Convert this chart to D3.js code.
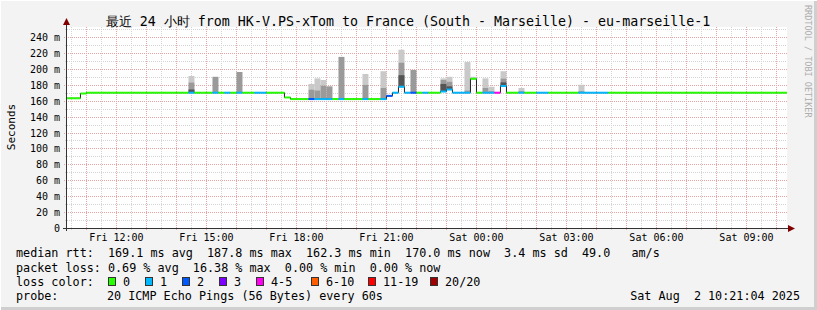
<!DOCTYPE html>
<html>
<head>
<meta charset="utf-8">
<script src="https://cdn.jsdelivr.net/npm/d3@7"></script>
<style>
  body { margin: 0; background: #f3f3f3; }
  svg { display: block; }
  text { font-family: "DejaVu Sans Mono", monospace; fill: #000; white-space: pre; }
</style>
</head>
<body>
<div id="chart"></div>
<script>
// median rtt (ms) per 12 minute bin, first bin starts Fri 10:12
const median = [
  163, 163, 163, 169,
  170, 170, 170, 170, 170, 170, 170, 170, 170, 170, 170, 170, 170, 170, 170, 170, 170,
  170, 170, 170, 170, 170, 170, 170, 170, 170, 170, 170, 170, 170, 170, 170, 170,
  164,
  162, 162, 162, 162, 162, 162, 162, 162, 162, 162, 162, 162, 162, 162, 162, 162,
  166, 170, 177.5, 170, 170,
  170, 170, 170, 170, 171.5, 174, 170, 170, 170, 187.5,
  170, 170, 170, 170, 178.5,
  170, 170, 170, 170, 170, 170, 170, 170, 170, 170, 170, 170, 170, 170, 170, 170,
  170, 170, 170, 170, 170, 170, 170, 170, 170, 170, 170, 170, 170, 170, 170, 170,
  170, 170, 170, 170, 170, 170, 170, 170, 170, 170, 170, 170, 170, 170, 170
];
// loss class per bin (index into lossLabels)
const lossClass = [
  0, 0, 0, 0, 0, 0, 0, 0, 0, 0, 0, 0, 0, 0, 0, 0, 0, 0, 0, 0, 0,
  1, 0, 0, 0, 1, 0, 1, 0, 1, 0, 0, 1, 1, 0, 0, 0, 0, 0, 0, 0,
  2, 1, 1, 1, 0, 1, 0, 0, 0, 1, 0, 0, 1, 2, 1, 1, 1, 2, 0, 1,
  0, 0, 1, 1, 1, 1, 1, 0, 0, 1, 1, 4, 1, 0, 0, 1, 0, 0, 1, 1,
  0, 0, 0, 0, 0, 1, 1, 1, 1, 1,
  0, 0, 0, 0, 0, 0, 0, 0, 0, 0, 0, 0, 0, 0, 0, 0, 0, 0, 0, 0,
  0, 0, 0, 0, 0, 0, 0, 0, 0, 0
];
// smoke: bins with visible ping spread; max ping, end of the denser part, dense core (0 = none)
const smokeBins = [21, 25, 29, 41, 42, 43, 44, 46, 50, 53, 56, 58, 63, 64, 67, 68, 70, 71, 73, 76, 86];
const smokeTop  = [191, 190, 196, 181, 188, 186, 178, 215, 193.5, 197, 224, 198.5, 188, 190, 208.5, 190, 188, 177.5, 197, 176, 180];
const smokeMid  = [183, 190, 196, 174, 173, 179, 178, 215, 180, 176, 208, 198.5, 186, 184, 173, 185, 176, 172, 188, 172, 172];
const smokeDark = [174, 0, 0, 0, 0, 0, 0, 0, 0, 0, 192, 0, 181, 178, 0, 180, 0, 0, 183, 0, 0];

const lossLabels = ["0", "1", "2", "3", "4-5", "6-10", "11-19", "20/20"];
const lossColors = ["#26ff00", "#00b8ff", "#0059ff", "#7e00ff", "#ff00f0", "#ff5e00", "#ff0000", "#a10000"];

const yLabels = [0, 20, 40, 60, 80, 100, 120, 140, 160, 180, 200, 220, 240];

const legendLines = [
  "median rtt:  169.1 ms avg  187.8 ms max  162.3 ms min  170.0 ms now  3.4 ms sd  49.0   am/s",
  "packet loss: 0.69 % avg  16.38 % max  0.00 % min  0.00 % now"
];
const legendX = [108, 145, 182, 219, 256, 311, 368, 430];

const W = 817, H = 310;
const plot = {left: 67, right: 787, top: 27, bottom: 228};

const svg = d3.select("#chart").append("svg").attr("width", W).attr("height", H);

// frame
svg.append("rect").attr("width", W).attr("height", H).attr("fill", "#f3f3f3");
svg.append("rect").attr("x", 0).attr("y", H - 3).attr("width", W).attr("height", 3).attr("fill", "#cfcfcf");
svg.append("rect").attr("x", W - 3).attr("y", 0).attr("width", 3).attr("height", H).attr("fill", "#cfcfcf");
svg.append("rect").attr("x", 0).attr("y", 0).attr("width", W).attr("height", 1).attr("fill", "#fff");
svg.append("rect").attr("x", 0).attr("y", 0).attr("width", 1).attr("height", H).attr("fill", "#fff");

svg.append("rect")
  .attr("x", plot.left).attr("y", plot.top)
  .attr("width", plot.right - plot.left).attr("height", plot.bottom - plot.top)
  .attr("fill", "#fff");

const t0 = new Date(2025, 7, 1, 10, 21, 4);
const t1 = new Date(2025, 7, 2, 10, 21, 4);
const binStart = new Date(2025, 7, 1, 10, 12, 0);
const binMs = 12 * 60 * 1000;
const binTime = i => new Date(binStart.getTime() + i * binMs);

const x = d3.scaleTime().domain([t0, t1]).range([plot.left, plot.right]);
const y = d3.scaleLinear().domain([0, 240]).range([plot.bottom, 37]);

// grid
const grid = svg.append("g");
const minorY = d3.range(10, 251, 20);
grid.selectAll(".gy").data(minorY).enter().append("line")
  .attr("x1", plot.left - 2).attr("x2", plot.right)
  .attr("y1", d => Math.round(y(d)) + 0.5).attr("y2", d => Math.round(y(d)) + 0.5)
  .attr("stroke", "#d4d4d4").attr("stroke-dasharray", "1,1");
const halfHours = d3.timeMinute.every(30).range(t0, t1).filter(d => d.getMinutes() === 30);
grid.selectAll(".gx").data(halfHours).enter().append("line")
  .attr("x1", d => Math.round(x(d)) + 0.5).attr("x2", d => Math.round(x(d)) + 0.5)
  .attr("y1", plot.top).attr("y2", plot.bottom + 2)
  .attr("stroke", "#d4d4d4").attr("stroke-dasharray", "1,1");
const majorY = yLabels.slice(1);
grid.selectAll(".my").data(majorY).enter().append("line")
  .attr("x1", plot.left - 3).attr("x2", plot.right)
  .attr("y1", d => Math.round(y(d)) + 0.5).attr("y2", d => Math.round(y(d)) + 0.5)
  .attr("stroke", "#e6a4a4").attr("stroke-dasharray", "1,1");
const hours = d3.timeHour.range(t0, t1);
grid.selectAll(".mx").data(hours).enter().append("line")
  .attr("x1", d => Math.round(x(d)) + 0.5).attr("x2", d => Math.round(x(d)) + 0.5)
  .attr("y1", plot.top).attr("y2", plot.bottom + 3)
  .attr("stroke", "#e6a4a4").attr("stroke-dasharray", "1,1");

// smoke
svg.append("clipPath").attr("id", "clip").append("rect")
  .attr("x", plot.left).attr("y", plot.top)
  .attr("width", plot.right - plot.left).attr("height", plot.bottom - plot.top);
const data = svg.append("g").attr("clip-path", "url(#clip)");

const smoke = smokeBins.map((b, i) => ({
  x0: x(binTime(b)), x1: x(binTime(b + 1)),
  base: median[b], dark: smokeDark[i], mid: smokeMid[i], top: smokeTop[i]
}));
data.selectAll(".sl").data(smoke).enter().append("rect")
  .attr("x", d => d.x0).attr("width", d => d.x1 - d.x0)
  .attr("y", d => y(d.top)).attr("height", d => Math.max(0, y(Math.max(d.base, d.mid)) - y(d.top)))
  .attr("fill", "#c9c9c9");
data.selectAll(".sm").data(smoke).enter().append("rect")
  .attr("x", d => d.x0).attr("width", d => d.x1 - d.x0)
  .attr("y", d => y(d.mid)).attr("height", d => Math.max(0, y(d.base) - y(d.mid)))
  .attr("fill", "#9a9a9a");
data.selectAll(".sd").data(smoke.filter(d => d.dark > d.base)).enter().append("rect")
  .attr("x", d => d.x0).attr("width", d => d.x1 - d.x0)
  .attr("y", d => y(d.dark)).attr("height", d => Math.max(0, y(d.base) - y(d.dark)))
  .attr("fill", "#555");

// median step line (dark) then loss-coloured segments
const pts = median.map((v, i) => [binTime(i), v]);
pts.push([binTime(median.length), median[median.length - 1]]);
data.append("path")
  .attr("d", d3.line().x(d => x(d[0])).y(d => y(d[1])).curve(d3.curveStepAfter)(pts))
  .attr("fill", "none").attr("stroke", "#202020").attr("stroke-width", 1);
data.selectAll(".seg").data(median).enter().append("line")
  .attr("x1", (d, i) => x(binTime(i))).attr("x2", (d, i) => x(binTime(i + 1)))
  .attr("y1", d => y(d)).attr("y2", d => y(d))
  .attr("stroke", (d, i) => lossColors[lossClass[i]]).attr("stroke-width", 2);

// axes
svg.append("line").attr("x1", plot.left - 0.5).attr("x2", plot.left - 0.5)
  .attr("y1", plot.bottom + 3).attr("y2", 24).attr("stroke", "#333");
svg.append("line").attr("x1", plot.left - 4).attr("x2", 789)
  .attr("y1", plot.bottom + 0.5).attr("y2", plot.bottom + 0.5).attr("stroke", "#333");
svg.append("path").attr("d", `M${plot.left - 4},25 L${plot.left - 0.5},18 L${plot.left + 3},25 Z`).attr("fill", "#800000");
svg.append("path").attr("d", `M788,${plot.bottom - 3} L795,${plot.bottom + 0.5} L788,${plot.bottom + 4} Z`).attr("fill", "#800000");

svg.selectAll(".yl").data(yLabels).enter().append("text")
  .attr("x", 60).attr("y", d => y(d) + 4)
  .attr("text-anchor", "end").attr("font-size", "10px")
  .text(d => d === 0 ? "0" : d + " m");

const labelTimes = d3.timeHour.range(t0, t1).filter(d => d.getHours() % 3 === 0);
svg.selectAll(".xl").data(labelTimes).enter().append("text")
  .attr("x", d => x(d)).attr("y", 241)
  .attr("text-anchor", "middle").attr("font-size", "10px")
  .text(d3.timeFormat("%a %H:%M"));

svg.append("text")
  .attr("transform", "translate(15,127) rotate(-90)")
  .attr("text-anchor", "middle").attr("font-size", "11px")
  .text("Seconds");

svg.append("text")
  .attr("x", 408).attr("y", 26).attr("text-anchor", "middle").attr("font-size", "13.3px")
  .text("最近 24 小时 from HK-V.PS-xTom to France (South - Marseille) - eu-marseille-1");

svg.append("text")
  .attr("transform", "translate(805,5) rotate(90)")
  .attr("font-size", "8.5px").style("fill", "#adadad")
  .text("RRDTOOL / TOBI OETIKER");

// legend
const fs = "11.75px";
svg.selectAll(".leg").data(legendLines).enter().append("text")
  .attr("x", 16).attr("y", (d, i) => 257 + i * 15).attr("font-size", fs).text(d => d);
svg.append("text").attr("x", 16).attr("y", 286).attr("font-size", fs).text("loss color:");
const lg = svg.selectAll(".lg").data(lossLabels).enter().append("g");
lg.append("rect")
  .attr("x", (d, i) => legendX[i] + 0.5).attr("y", 277.5).attr("width", 7).attr("height", 8)
  .attr("fill", (d, i) => lossColors[i]).attr("stroke", "#333");
lg.append("text")
  .attr("x", (d, i) => legendX[i] + 15).attr("y", 286).attr("font-size", fs).text(d => d);

svg.append("text").attr("x", 16).attr("y", 300).attr("font-size", fs).text("probe:");
svg.append("text").attr("x", 107).attr("y", 300).attr("font-size", fs)
  .text("20 ICMP Echo Pings (56 Bytes) every 60s");
svg.append("text").attr("x", 800).attr("y", 300).attr("font-size", fs).attr("text-anchor", "end")
  .text("Sat Aug  2 10:21:04 2025");
</script>
</body>
</html>
